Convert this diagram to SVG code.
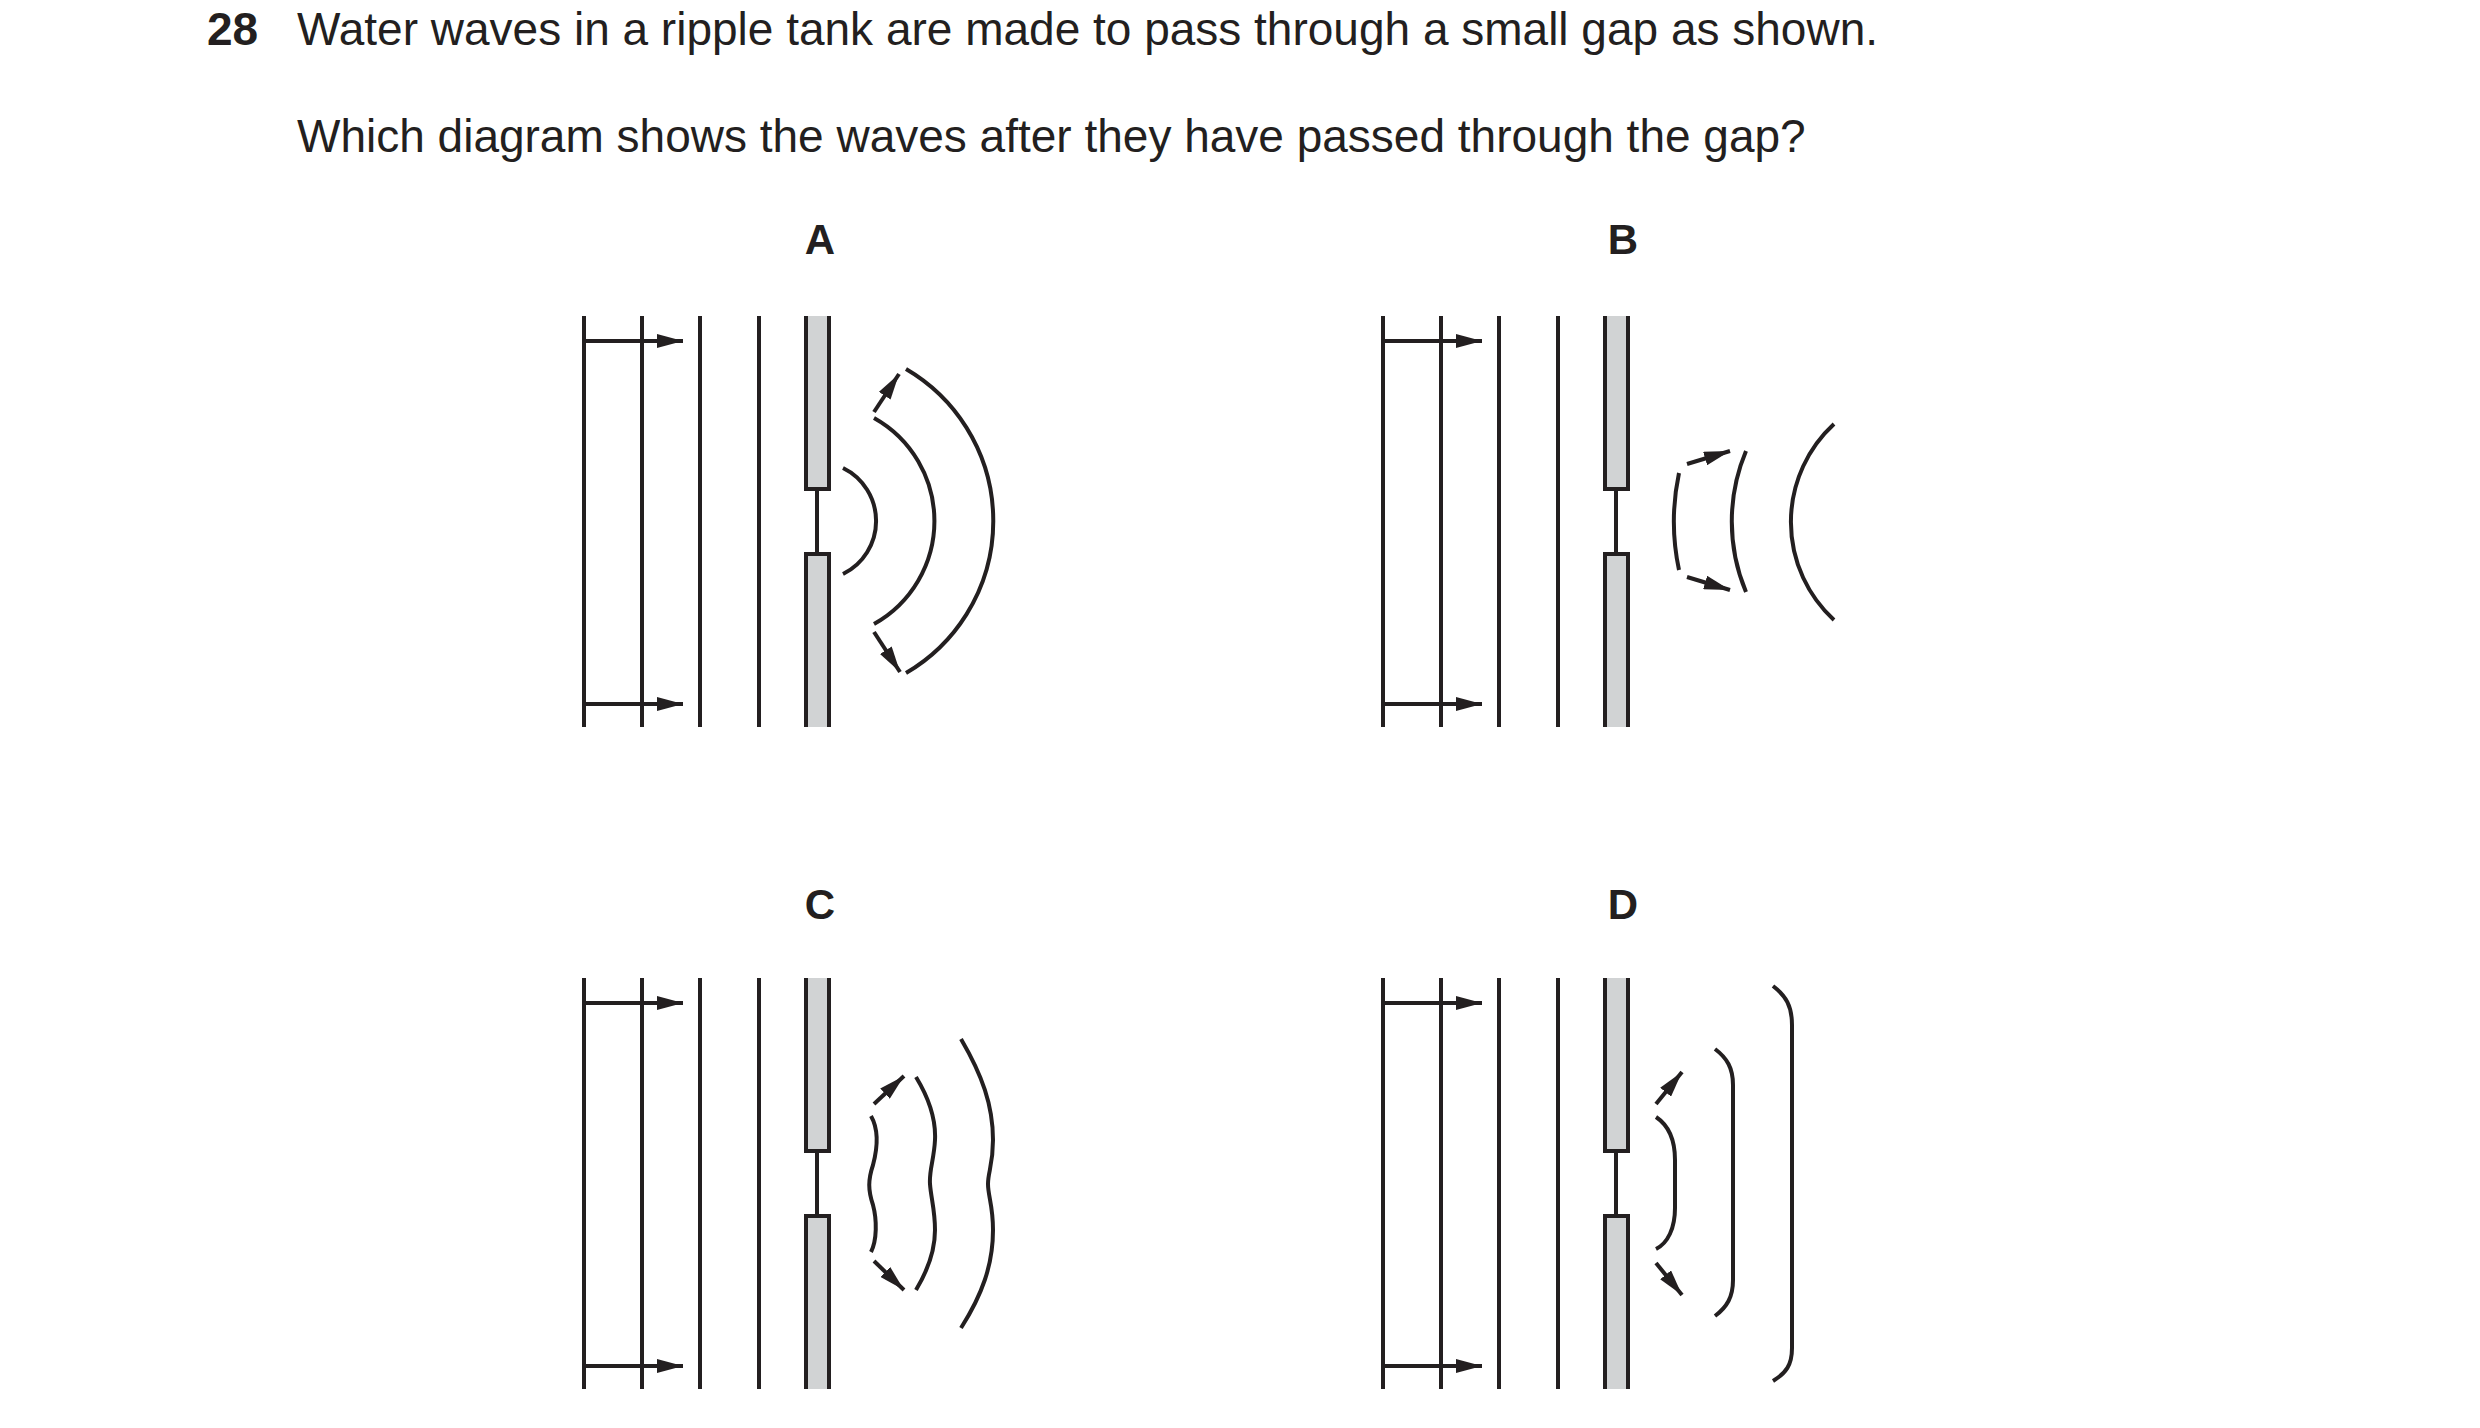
<svg xmlns="http://www.w3.org/2000/svg" width="2480" height="1428" viewBox="0 0 2480 1428">
<style>
.t{font-family:"Liberation Sans",Arial,sans-serif;font-size:46px;fill:#231f20}
.b{font-weight:bold}
.lb{font-size:42px}
.l{stroke:#231f20;stroke-width:4;fill:none}
.a{stroke:#231f20;stroke-width:4;fill:none;marker-end:url(#ahb)}
.f{fill:#d1d3d4}
</style>
<defs>
<marker id="ahb" markerWidth="26" markerHeight="14" refX="26" refY="7" orient="auto" markerUnits="userSpaceOnUse" viewBox="0 0 26 14">
<path d="M0,0 L26,7 L0,14 Z" fill="#231f20"/>
</marker>
<g id="base">
<path class="l" d="M584,316V727M642,316V727M700,316V727M759,316V727"/>
<path class="a" d="M584,341H683"/>
<path class="a" d="M584,704H683"/>
<rect class="f" x="806" y="316" width="23" height="173"/>
<rect class="f" x="806" y="554" width="23" height="173"/>
<path class="l" d="M806,316V489H829V316M806,727V554H829V727M817,489V554"/>
</g>
</defs>
<text class="t b" x="207" y="45">28</text>
<text class="t" x="297" y="45">Water waves in a ripple tank are made to pass through a small gap as shown.</text>
<text class="t" x="297" y="152">Which diagram shows the waves after they have passed through the gap?</text>
<g id="A">
<text class="t b lb" x="820" y="254" text-anchor="middle">A</text>
<use href="#base"/>
<path class="l" d="M843,468A59,59 0 0 1 843,574M874,418A118,118 0 0 1 874,624M906,369A176,176 0 0 1 906,673"/>
</g>
<g id="B">
<text class="t b lb" x="1623" y="254" text-anchor="middle">B</text>
<use href="#base" x="799"/>
<path class="l" d="M1679,473A233,233 0 0 0 1679,570M1746,451A182,182 0 0 0 1746,592M1834,424A133,133 0 0 0 1834,620"/>
</g>
<g id="C">
<text class="t b lb" x="820" y="919" text-anchor="middle">C</text>
<use href="#base" y="662"/>
<path class="l" d="M871,1116C879,1130 877,1150 873,1165C868,1180 868,1190 873,1205C877,1220 877,1240 871,1252"/>
<path class="l" d="M916,1077C930,1100 936,1120 935,1140C934,1160 929,1170 930,1184C931,1198 935,1210 935,1230C935,1250 928,1270 916,1290"/>
<path class="l" d="M961,1039C982,1075 993,1105 993,1140C993,1165 988,1172 988,1184C988,1196 993,1205 993,1230C993,1265 982,1295 961,1328"/>
</g>
<g id="D">
<text class="t b lb" x="1623" y="919" text-anchor="middle">D</text>
<use href="#base" x="799" y="662"/>
<path class="l" d="M1656,1117C1668,1125 1675,1140 1675,1160L1675,1208C1675,1228 1668,1243 1656,1249"/>
<path class="l" d="M1715,1049C1727,1058 1733,1068 1733,1085L1733,1280C1733,1297 1727,1307 1715,1316"/>
<path class="l" d="M1773,986C1786,996 1792,1006 1792,1025L1792,1348C1792,1365 1786,1373 1773,1381"/>
</g>
<g id="connectors">
<path class="a" d="M874,412L899,374"/>
<path class="a" d="M874,632L900,672"/>
<path class="a" d="M1687,464L1730,451"/>
<path class="a" d="M1687,577L1730,590"/>
<path class="a" d="M874,1104L904,1076"/>
<path class="a" d="M874,1261L904,1290"/>
<path class="a" d="M1656,1104L1682,1072"/>
<path class="a" d="M1656,1263L1682,1295"/>
</g>
</svg>
